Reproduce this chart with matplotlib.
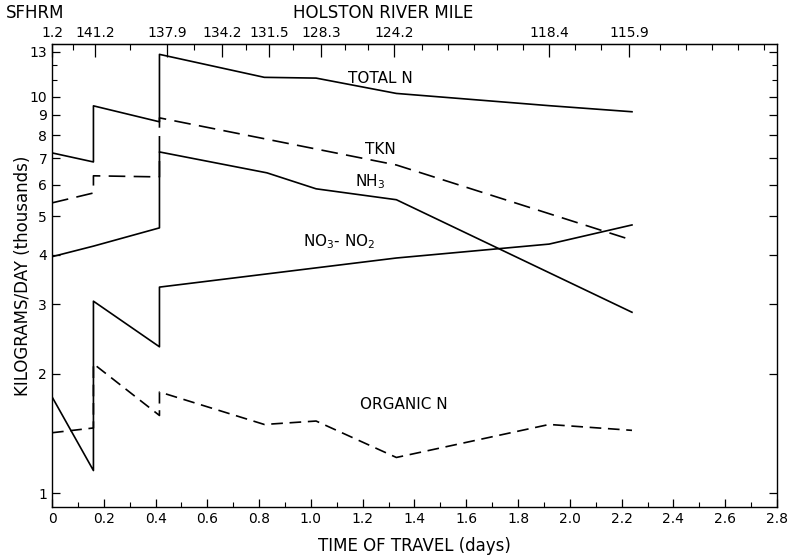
import matplotlib
matplotlib.use("Agg")
import matplotlib.pyplot as plt
from matplotlib.ticker import FixedLocator, NullFormatter

# ---- data (thousands kg/day vs time of travel, days) ----
totn_x = [0, 0.16, 0.16, 0.415, 0.415, 0.82, 1.02, 1.33, 1.92, 2.24]
totn_y = [7.22, 6.85, 9.49, 8.65, 12.8, 11.2, 11.15, 10.2, 9.5, 9.17]

tkn_x = [0, 0.16, 0.16, 0.415, 0.415, 1.33, 2.24]
tkn_y = [5.40, 5.72, 6.32, 6.28, 8.85, 6.73, 4.35]

nh3_x = [0, 0.16, 0.415, 0.415, 0.83, 1.02, 1.33, 2.24]
nh3_y = [3.95, 4.2, 4.67, 7.26, 6.43, 5.86, 5.5, 2.86]

no3_x = [0, 0.16, 0.16, 0.415, 0.415, 1.33, 1.92, 2.24]
no3_y = [1.75, 1.14, 3.05, 2.34, 3.31, 3.92, 4.25, 4.75]

orgn_x = [0, 0.16, 0.16, 0.415, 0.415, 0.82, 1.02, 1.33, 1.92, 2.24]
orgn_y = [1.42, 1.46, 2.12, 1.57, 1.80, 1.49, 1.52, 1.23, 1.49, 1.44]

river_mile_pos = [0, 0.166, 0.444, 0.656, 0.84, 1.04, 1.32, 1.92, 2.23]
river_mile_labels = ["1.2", "141.2", "137.9", "134.2", "131.5", "128.3", "124.2", "118.4", "115.9"]

xticks = [0, 0.2, 0.4, 0.6, 0.8, 1.0, 1.2, 1.4, 1.6, 1.8, 2.0, 2.2, 2.4, 2.6, 2.8]
xtick_labels = ["0", "0.2", "0.4", "0.6", "0.8", "1.0", "1.2", "1.4", "1.6", "1.8",
                "2.0", "2.2", "2.4", "2.6", "2.8"]
yticks = [1, 2, 3, 4, 5, 6, 7, 8, 9, 10, 13]
yminor = [11, 12]

plt.rcParams['font.family'] = ['DejaVu Sans']

fig = plt.figure(figsize=(7.88, 5.56), dpi=100)
ax = fig.add_axes([0.066, 0.088, 0.92, 0.833])

lw = 1.2
ax.plot(totn_x, totn_y, color='black', lw=lw)
ax.plot(tkn_x, tkn_y, color='black', lw=lw, dashes=(10, 5))
ax.plot(nh3_x, nh3_y, color='black', lw=lw)
ax.plot(no3_x, no3_y, color='black', lw=lw)
ax.plot(orgn_x, orgn_y, color='black', lw=lw, dashes=(7, 4))

ax.set_yscale('log')
ax.set_xlim(0, 2.8)
ax.set_ylim(0.922, 13.6)

ax.yaxis.set_major_locator(FixedLocator(yticks))
ax.yaxis.set_major_formatter(matplotlib.ticker.FixedFormatter([str(v) for v in yticks]))
ax.yaxis.set_minor_locator(FixedLocator(yminor))
ax.yaxis.set_minor_formatter(NullFormatter())

ax.set_xticks(xticks)
ax.set_xticklabels(xtick_labels)
ax.xaxis.set_minor_locator(FixedLocator([0.1 + 0.2 * i for i in range(14)]))

ax.tick_params(axis='both', which='major', direction='in', length=6, width=0.9,
               labelsize=10, right=True)
ax.tick_params(axis='both', which='minor', direction='in', length=3.5, width=0.8, right=True)

for s in ax.spines.values():
    s.set_linewidth(1.0)

# top axis: river miles
top = ax.secondary_xaxis('top')
top.set_xticks(river_mile_pos)
top.set_xticklabels(river_mile_labels)
top.xaxis.set_minor_locator(FixedLocator([0.08, 0.3, 0.55, 0.75, 0.93, 1.13, 1.22, 1.43, 1.53, 1.63,
                                          1.72, 1.82, 2.02, 2.12, 2.35, 2.45, 2.55, 2.65, 2.75]))
top.tick_params(which='major', direction='in', length=9, width=0.9, labelsize=10, pad=3)
top.tick_params(which='minor', direction='in', length=4, width=0.8)

ax.set_xlabel("TIME OF TRAVEL (days)", fontsize=12, labelpad=8)
ax.set_ylabel("KILOGRAMS/DAY (thousands)", fontsize=12)
ax.yaxis.set_label_coords(-0.028, 0.5)

fig.text(0.008, 0.977, "SFHRM", fontsize=12, ha='left', va='center')
fig.text(0.486, 0.977, "HOLSTON RIVER MILE", fontsize=12, ha='center', va='center')

# series labels
ax.text(1.27, 11.1, "TOTAL N", fontsize=11, ha='center', va='center')
ax.text(1.27, 7.35, "TKN", fontsize=11, ha='center', va='center')
ax.text(1.23, 6.1, "NH$_3$", fontsize=11, ha='center', va='center')
ax.text(1.11, 4.3, "NO$_3$- NO$_2$", fontsize=11, ha='center', va='center')
ax.text(1.36, 1.67, "ORGANIC N", fontsize=11, ha='center', va='center')

fig.savefig("out.png", dpi=100)
